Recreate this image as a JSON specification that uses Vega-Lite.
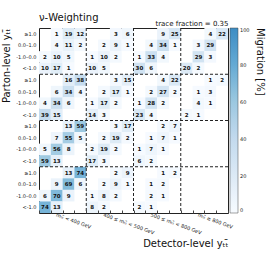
{
  "$schema": "https://vega.github.io/schema/vega-lite/v6.json",
  "width": 189,
  "height": 185,
  "autosize": "none",
  "padding": {"left": 39, "top": 28, "right": 38, "bottom": 53},
  "background": "white",
  "config": {"font": "DejaVu Sans", "view": {"stroke": "#222", "strokeWidth": 1}},
  "title": {"text": "ν-Weighting", "anchor": "start", "frame": "group", "fontSize": 10, "fontWeight": "normal", "offset": 4, "dy": 8, "color": "#111"},
  "datasets": {
    "cells": [
      {"c": 1, "r": 15, "v": 1}, {"c": 2, "r": 15, "v": 19}, {"c": 3, "r": 15, "v": 12}, {"c": 6, "r": 15, "v": 3}, {"c": 7, "r": 15, "v": 6}, {"c": 10, "r": 15, "v": 9}, {"c": 11, "r": 15, "v": 25}, {"c": 14, "r": 15, "v": 4}, {"c": 15, "r": 15, "v": 22},
      {"c": 1, "r": 14, "v": 4}, {"c": 2, "r": 14, "v": 11}, {"c": 3, "r": 14, "v": 2}, {"c": 5, "r": 14, "v": 2}, {"c": 6, "r": 14, "v": 9}, {"c": 7, "r": 14, "v": 1}, {"c": 9, "r": 14, "v": 4}, {"c": 10, "r": 14, "v": 34}, {"c": 11, "r": 14, "v": 1}, {"c": 13, "r": 14, "v": 3}, {"c": 14, "r": 14, "v": 29},
      {"c": 0, "r": 13, "v": 2}, {"c": 1, "r": 13, "v": 10}, {"c": 2, "r": 13, "v": 5}, {"c": 4, "r": 13, "v": 1}, {"c": 5, "r": 13, "v": 10}, {"c": 6, "r": 13, "v": 2}, {"c": 8, "r": 13, "v": 1}, {"c": 9, "r": 13, "v": 33}, {"c": 10, "r": 13, "v": 4}, {"c": 13, "r": 13, "v": 29}, {"c": 14, "r": 13, "v": 3},
      {"c": 0, "r": 12, "v": 10}, {"c": 1, "r": 12, "v": 17}, {"c": 2, "r": 12, "v": 1}, {"c": 4, "r": 12, "v": 10}, {"c": 5, "r": 12, "v": 5}, {"c": 8, "r": 12, "v": 30}, {"c": 9, "r": 12, "v": 6}, {"c": 12, "r": 12, "v": 20}, {"c": 13, "r": 12, "v": 2},
      {"c": 2, "r": 11, "v": 16}, {"c": 3, "r": 11, "v": 38}, {"c": 6, "r": 11, "v": 3}, {"c": 7, "r": 11, "v": 15}, {"c": 10, "r": 11, "v": 4}, {"c": 11, "r": 11, "v": 22}, {"c": 14, "r": 11, "v": 1}, {"c": 15, "r": 11, "v": 2},
      {"c": 1, "r": 10, "v": 6}, {"c": 2, "r": 10, "v": 34}, {"c": 3, "r": 10, "v": 4}, {"c": 5, "r": 10, "v": 2}, {"c": 6, "r": 10, "v": 17}, {"c": 7, "r": 10, "v": 1}, {"c": 9, "r": 10, "v": 2}, {"c": 10, "r": 10, "v": 27}, {"c": 11, "r": 10, "v": 2}, {"c": 13, "r": 10, "v": 1}, {"c": 14, "r": 10, "v": 3},
      {"c": 0, "r": 9, "v": 4}, {"c": 1, "r": 9, "v": 34}, {"c": 2, "r": 9, "v": 6}, {"c": 4, "r": 9, "v": 1}, {"c": 5, "r": 9, "v": 17}, {"c": 6, "r": 9, "v": 2}, {"c": 8, "r": 9, "v": 1}, {"c": 9, "r": 9, "v": 28}, {"c": 10, "r": 9, "v": 2}, {"c": 13, "r": 9, "v": 4}, {"c": 14, "r": 9, "v": 1},
      {"c": 0, "r": 8, "v": 39}, {"c": 1, "r": 8, "v": 15}, {"c": 4, "r": 8, "v": 14}, {"c": 5, "r": 8, "v": 3}, {"c": 8, "r": 8, "v": 23}, {"c": 9, "r": 8, "v": 4}, {"c": 12, "r": 8, "v": 2}, {"c": 13, "r": 8, "v": 1},
      {"c": 2, "r": 7, "v": 13}, {"c": 3, "r": 7, "v": 59}, {"c": 6, "r": 7, "v": 3}, {"c": 7, "r": 7, "v": 17}, {"c": 10, "r": 7, "v": 2}, {"c": 11, "r": 7, "v": 7},
      {"c": 1, "r": 6, "v": 7}, {"c": 2, "r": 6, "v": 55}, {"c": 3, "r": 6, "v": 5}, {"c": 5, "r": 6, "v": 2}, {"c": 6, "r": 6, "v": 19}, {"c": 7, "r": 6, "v": 2}, {"c": 9, "r": 6, "v": 1}, {"c": 10, "r": 6, "v": 7}, {"c": 11, "r": 6, "v": 1},
      {"c": 0, "r": 5, "v": 5}, {"c": 1, "r": 5, "v": 56}, {"c": 2, "r": 5, "v": 8}, {"c": 4, "r": 5, "v": 2}, {"c": 5, "r": 5, "v": 19}, {"c": 6, "r": 5, "v": 2}, {"c": 8, "r": 5, "v": 1}, {"c": 9, "r": 5, "v": 7}, {"c": 10, "r": 5, "v": 1},
      {"c": 0, "r": 4, "v": 59}, {"c": 1, "r": 4, "v": 13}, {"c": 4, "r": 4, "v": 17}, {"c": 5, "r": 4, "v": 3}, {"c": 8, "r": 4, "v": 6}, {"c": 9, "r": 4, "v": 2},
      {"c": 2, "r": 3, "v": 13}, {"c": 3, "r": 3, "v": 74}, {"c": 6, "r": 3, "v": 2}, {"c": 7, "r": 3, "v": 9}, {"c": 10, "r": 3, "v": 1}, {"c": 11, "r": 3, "v": 2},
      {"c": 1, "r": 2, "v": 9}, {"c": 2, "r": 2, "v": 69}, {"c": 3, "r": 2, "v": 6}, {"c": 5, "r": 2, "v": 2}, {"c": 6, "r": 2, "v": 9}, {"c": 7, "r": 2, "v": 1}, {"c": 9, "r": 2, "v": 1}, {"c": 10, "r": 2, "v": 2},
      {"c": 0, "r": 1, "v": 6}, {"c": 1, "r": 1, "v": 70}, {"c": 2, "r": 1, "v": 9}, {"c": 4, "r": 1, "v": 1}, {"c": 5, "r": 1, "v": 8}, {"c": 6, "r": 1, "v": 2}, {"c": 9, "r": 1, "v": 2}, {"c": 10, "r": 1, "v": 1},
      {"c": 0, "r": 0, "v": 74}, {"c": 1, "r": 0, "v": 13}, {"c": 4, "r": 0, "v": 8}, {"c": 5, "r": 0, "v": 2}, {"c": 8, "r": 0, "v": 2}, {"c": 9, "r": 0, "v": 1}
    ],
    "vb": [{"b": 4}, {"b": 8}, {"b": 12}],
    "hb": [{"b": 3}, {"b": 7}, {"b": 11}]
  },
  "resolve": {"axis": {"x": "independent"}},
  "layer": [
    {
      "data": {"name": "cells"},
      "mark": {"type": "rect"},
      "encoding": {
        "x": {"field": "c", "type": "ordinal",
          "scale": {"domain": [0,1,2,3,4,5,6,7,8,9,10,11,12,13,14,15], "paddingInner": 0, "paddingOuter": 0},
          "axis": {"title": "Detector-level yₜₜ̄", "titleAnchor": "end", "titleFontSize": 10, "titleFontWeight": "normal", "titleColor": "#111", "titlePadding": 3,
            "labelExpr": "datum.value == 1 ? 'mₜₜ̄ < 400 GeV' : datum.value == 5 ? '400 ≤ mₜₜ̄ < 500 GeV' : datum.value == 9 ? '500 ≤ mₜₜ̄ < 800 GeV' : datum.value == 13 ? 'mₜₜ̄ ≥ 800 GeV' : ''",
            "labelAngle": 20, "labelAlign": "left", "labelBaseline": "top", "labelFontSize": 5, "labelColor": "#222", "labelPadding": 2, "labelOverlap": false, "labelBound": false,
            "tickBand": "extent", "tickSize": -3, "tickColor": "#444", "domain": false}},
        "y": {"field": "r", "type": "ordinal",
          "scale": {"domain": [15,14,13,12,11,10,9,8,7,6,5,4,3,2,1,0], "paddingInner": 0, "paddingOuter": 0},
          "axis": {"title": "Parton-level yₜₜ̄", "titleAnchor": "start", "titleAlign": "right", "titleFontSize": 10, "titleFontWeight": "normal", "titleColor": "#111",
            "labelExpr": "['<-1.0','-1.0–0.0','0.0–1.0','≥1.0'][datum.value % 4]", "labelFontSize": 5, "labelColor": "#222", "ticks": false, "domain": false, "labelPadding": 3}},
        "color": {"field": "v", "type": "quantitative",
          "scale": {"domain": [0, 20, 40, 60, 80, 100], "range": ["#f7fbff", "#dceaf6", "#c3daee", "#9bc8e0", "#65aad4", "#3d8dc4"]},
          "legend": {"title": "Migration [%]", "orient": "right", "offset": 2, "gradientLength": 185, "gradientThickness": 8, "padding": 0,
            "values": [0, 20, 40, 60, 80, 100], "labelFontSize": 5, "labelColor": "#222", "gradientStrokeColor": "#444", "gradientStrokeWidth": 0.5,
            "titleOrient": "right", "titleAngle": 270, "titleAnchor": "end", "titleAlign": "left", "titleBaseline": "bottom", "titleFontSize": 10, "titleFontWeight": "normal", "titleColor": "#111"}}
      }
    },
    {
      "data": {"name": "cells"},
      "mark": {"type": "text", "fontSize": 5.5, "fontWeight": "bold", "color": "#111"},
      "encoding": {
        "x": {"field": "c", "type": "ordinal", "axis": null},
        "y": {"field": "r", "type": "ordinal"},
        "text": {"field": "v", "type": "quantitative"}
      }
    },
    {
      "data": {"name": "vb"},
      "mark": {"type": "rule", "strokeDash": [3, 2], "color": "#222", "strokeWidth": 1},
      "encoding": {
        "x": {"field": "b", "type": "ordinal", "bandPosition": 0,
          "axis": {"orient": "top", "title": "trace fraction = 0.35", "titleAnchor": "end", "titleFontSize": 7, "titleFontWeight": "normal", "titleColor": "#111", "titlePadding": 2, "labels": false, "ticks": false, "domain": false}}
      }
    },
    {
      "data": {"name": "hb"},
      "mark": {"type": "rule", "strokeDash": [3, 2], "color": "#222", "strokeWidth": 1},
      "encoding": {
        "y": {"field": "b", "type": "ordinal", "bandPosition": 0}
      }
    }
  ]
}
